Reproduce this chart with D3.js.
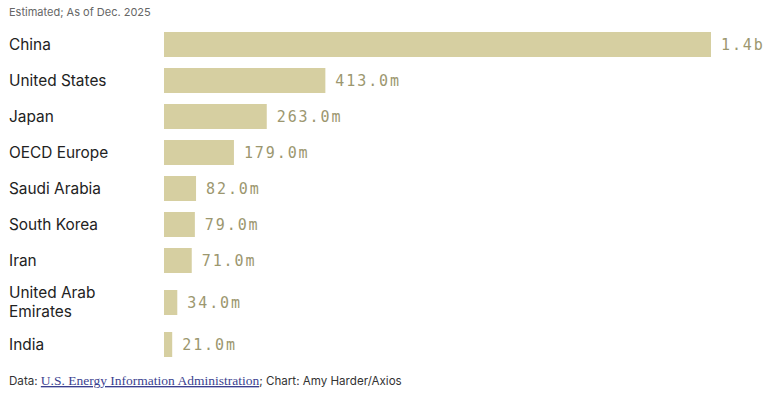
<!DOCTYPE html>
<html>
<head>
<meta charset="utf-8">
<script src="https://cdn.jsdelivr.net/npm/d3@7"></script>
<style>
  body { margin: 0; background: #fff; }
  svg { display: block; }
</style>
</head>
<body>
<svg id="chart" width="781" height="401"></svg>
<script>
// chart data
var countries = ["China", "United States", "Japan", "OECD Europe", "Saudi Arabia",
                 "South Korea", "Iran", "United Arab\nEmirates", "India"];
var barrels = [1400, 413, 263, 179, 82, 79, 71, 34, 21];
var valueLabels = ["1.4b", "413.0m", "263.0m", "179.0m", "82.0m", "79.0m", "71.0m", "34.0m", "21.0m"];

var subtitle = "Estimated; As of Dec. 2025";

var svg = d3.select("#chart");

var barLeft = 164, barRight = 711;
var x = d3.scaleLinear().domain([0, 1400]).range([barLeft, barRight]);

// rows with two-line labels get a bit more room
var rowTops = [];
var acc = 32;
countries.forEach(function (c, i) {
    var lines = c.split("\n").length;
    if (lines > 1) acc += 6;
    rowTops.push(acc);
    acc += 36 + (lines > 1 ? 6 : 0);
});
var y = d3.scaleOrdinal().domain(countries).range(rowTops);
var barH = 25;

svg.append("text")
    .attr("x", 9).attr("y", 16)
    .attr("font-family", "Inter, sans-serif")
    .attr("font-size", 11)
    .attr("fill", "#666")
    .text(subtitle);

var rows = svg.selectAll("g.row")
    .data(countries)
    .enter().append("g")
    .attr("class", "row");

rows.append("rect")
    .attr("x", x(0))
    .attr("y", function (d) { return y(d); })
    .attr("width", function (d, i) { return x(barrels[i]) - x(0); })
    .attr("height", barH)
    .attr("fill", "#d6cfa1");

rows.append("text")
    .attr("x", function (d, i) { return x(barrels[i]) + 10; })
    .attr("y", function (d) { return y(d) + barH / 2; })
    .attr("dy", "0.35em")
    .attr("font-family", "'DejaVu Sans Mono', monospace")
    .attr("font-size", 15)
    .attr("letter-spacing", 1.9)
    .attr("fill", "#9c976f")
    .text(function (d, i) { return valueLabels[i]; });

rows.each(function (d) {
    var lines = d.split("\n");
    var t = d3.select(this).append("text")
        .attr("font-family", "Inter, sans-serif")
        .attr("font-size", 15.4)
        .attr("fill", "#222");
    var cy = y(d) + barH / 2;
    var start = cy - (lines.length - 1) * 19 / 2;
    lines.forEach(function (l, k) {
        t.append("tspan")
            .attr("x", 9)
            .attr("y", start + k * 19)
            .attr("dy", "0.35em")
            .text(l);
    });
});

// footer
var foot = svg.append("text")
    .attr("x", 9).attr("y", 385)
    .attr("font-family", "Inter, sans-serif")
    .attr("font-size", 11.6)
    .attr("fill", "#333");
foot.append("tspan").text("Data: ");
foot.append("tspan")
    .attr("font-family", "'Liberation Serif', serif")
    .attr("font-size", 13.5)
    .attr("fill", "#3b3f8f")
    .attr("text-decoration", "underline")
    .text("U.S. Energy Information Administration");
foot.append("tspan").text("; Chart: Amy Harder/Axios");
</script>
</body>
</html>
